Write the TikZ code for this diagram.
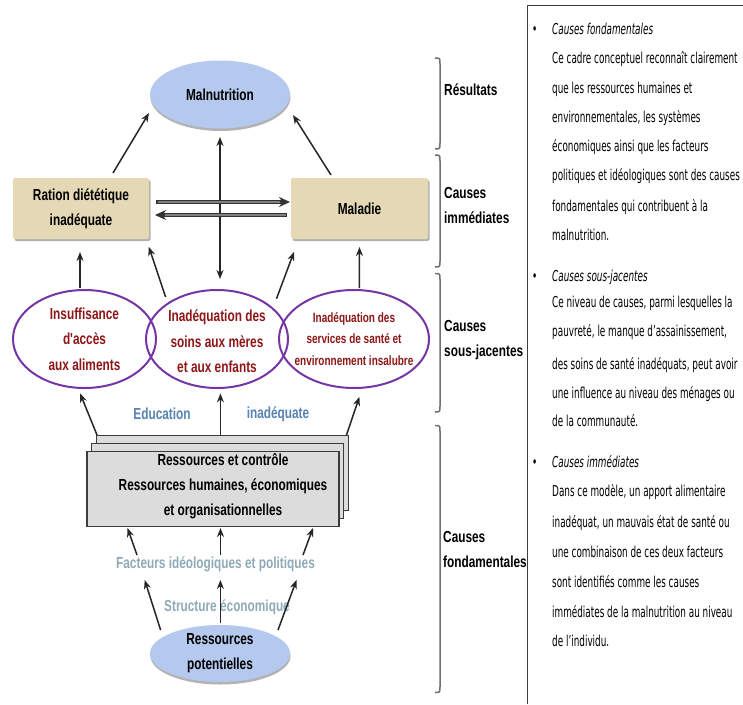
\documentclass[tikz,border=0pt]{standalone}
\usepackage{fontspec}
\setmainfont{Liberation Sans}
\newfontfamily\diagbold[FakeStretch=0.74]{Liberation Sans}
\newfontfamily\notefont[FakeStretch=0.59]{DejaVu Sans}
\usetikzlibrary{arrows.meta,shapes.geometric,shadows,calc}

\definecolor{boxbeige}{HTML}{E4D9B4}
\definecolor{ellblue}{HTML}{B5C9EE}
\definecolor{ringpurple}{HTML}{7535A5}
\definecolor{causered}{HTML}{8E1616}
\definecolor{stackgray}{HTML}{DCDCDC}
\definecolor{stackedge}{HTML}{3C3C3C}
\definecolor{edublue}{HTML}{5883B3}
\definecolor{factgray}{HTML}{8FAAB8}
\definecolor{bracegray}{HTML}{707070}

\newcommand\boldlbl{\diagbold\bfseries\fontsize{16}{25}\selectfont}
\newcommand\redlbl{\diagbold\bfseries\fontsize{16}{25.5}\selectfont}
\newcommand\smallred{\diagbold\bfseries\fontsize{13.5}{21.5}\selectfont}
\newcommand\notetxt{\notefont\fontsize{15}{17}\selectfont}

\tikzset{
  arr/.style={-{Stealth[length=9pt,width=7pt]}, line width=1.5pt, draw=black!85},
  twoway/.style={{Stealth[length=9pt,width=7pt]}-{Stealth[length=9pt,width=7pt]}, line width=1.5pt, draw=black!85},
  across/.style={-{Stealth[length=11pt,width=10pt]}, line width=3.4pt, draw=black!80},
  acrosscore/.style={line width=1.1pt, draw=black!50, shorten >=10pt, shorten <=1.5pt},
  outcome/.style={ellipse, fill=ellblue, inner sep=0pt, minimum width=140pt,
    drop shadow={shadow xshift=0.5pt, shadow yshift=-2.5pt, fill=black!50, opacity=0.6}},
  immbox/.style={rectangle, rounded corners=2pt, fill=boxbeige, minimum width=136pt,
    minimum height=61pt, inner sep=0pt, align=center, font=\boldlbl,
    drop shadow={shadow xshift=1.5pt, shadow yshift=-2pt, fill=black!50, opacity=0.6}},
  ring/.style={ellipse, draw=ringpurple, line width=2pt, minimum height=98pt, inner sep=0pt},
  ringtext/.style={text=causered, align=center, font=\redlbl, inner sep=0pt},
  stackbox/.style={rectangle, fill=stackgray, draw=stackedge, line width=1.4pt,
    minimum width=252pt, minimum height=74.5pt, inner sep=0pt,
    copy shadow={shadow xshift=9.4pt, shadow yshift=16pt, fill=stackgray, draw=stackedge, opacity=1},
    copy shadow={shadow xshift=4.7pt, shadow yshift=8pt, fill=stackgray, draw=stackedge, opacity=1}},
  stacktext/.style={align=center, font=\boldlbl, inner sep=0pt},
  plaintext/.style={font=\boldlbl, inner sep=0pt, align=center},
  levellbl/.style={font=\boldlbl, inner sep=0pt, align=left, anchor=west},
  brc/.style={draw=bracegray, line width=1.5pt},
  ptxt/.style={font=\notetxt, inner sep=0pt, anchor=base west},
  pdot/.style={font=\notetxt, inner sep=0pt, anchor=base west}
}

\begin{document}
\begin{tikzpicture}[x=1pt,y=-1pt]
\useasboundingbox (0,0) rectangle (743,704);
\fill[white] (0,0) rectangle (743,704);

% ---------- results and immediate causes ----------
\node[outcome, minimum height=68pt, font=\boldlbl] (mal) at (220,94.5) {Malnutrition};
\node[immbox] (ration) at (81,208.5) {Ration diététique\\inadéquate};
\node[immbox, minimum width=137pt] (maladie) at (359.5,208.5) {Maladie};

% ---------- underlying causes ----------
\node[ring, minimum width=143pt,
  label={[ringtext]center:{Insuffisance\\d'accès\\aux aliments}}] (acces) at (84.5,339) {};
\node[ring, minimum width=142pt,
  label={[ringtext, yshift=-2.5pt]center:{Inadéquation des\\soins aux mères\\et aux enfants}}] (soins) at (217,339) {};
\node[ring, minimum width=150pt,
  label={[ringtext, font=\smallred]center:{Inadéquation des\\services de santé et\\environnement insalubre}}] (sante) at (354,339) {};

\node[plaintext, text=edublue] (educ) at (162,414) {Education};
\node[plaintext, text=edublue] (inad) at (278,414) {inadéquate};

% ---------- basic causes ----------
\node[stackbox,
  label={[stacktext, xshift=10pt, yshift=2.5pt]center:{Ressources et contrôle\\Ressources humaines, économiques\\et organisationnelles}}] (ress) at (213,489) {};

\node[plaintext, text=factgray] (fact) at (215.5,564) {Facteurs idéologiques et politiques};
\node[plaintext, text=factgray] (struct) at (227,607) {Structure économique};

\node[outcome, minimum height=57pt,
  label={[plaintext]center:{Ressources\\potentielles}}] (pot) at (220,653.5) {};

% ---------- connectors ----------
\draw[arr] ($(ration)+(32,-35.5)$) -- ($(mal)+(-71,18.5)$);
\draw[arr] ($(maladie)+(-28.5,-33.5)$) -- ($(mal)+(73,20.5)$);
\draw[twoway] ($(mal)+(0,42.5)$) -- ($(soins)+(3,-60)$);

\draw[across] ($(ration)+(75,-6.5)$) -- ($(maladie)+(-69.5,-6.5)$);
\draw[acrosscore] ($(ration)+(75,-6.5)$) -- ($(maladie)+(-69.5,-6.5)$);
\draw[across] ($(maladie)+(-72.5,6.5)$) -- ($(ration)+(74,6.5)$);
\draw[acrosscore] ($(maladie)+(-72.5,6.5)$) -- ($(ration)+(74,6.5)$);

\draw[arr] ($(acces)+(-4.5,-51)$) -- ($(ration)+(-1,43.5)$);
\draw[arr] ($(soins)+(-51.4,-42)$) -- ($(ration)+(67.8,38.3)$);
\draw[arr] ($(soins)+(59.5,-40.3)$) -- ($(maladie)+(-65.5,43.4)$);
\draw[arr] ($(sante)+(5.4,-51)$) -- ($(maladie)+(0,38.5)$);

\draw[arr] ($(ress)+(-116,-54)$) -- ($(acces)+(-4.4,54.4)$);
\draw[arr] ($(ress)+(7.4,-54)$) -- ($(soins)+(3.4,54.4)$);
\draw[arr] ($(ress)+(133.5,-54)$) -- ($(sante)+(5.4,57.8)$);

\draw[arr] ($(fact)+(-78.5,-9)$) -- ($(ress)+(-85.5,39)$);
\draw[arr] ($(fact)+(5,-9)$) -- ($(ress)+(7.5,39)$);
\draw[arr] ($(fact)+(87.5,-9)$) -- ($(ress)+(100,39)$);

\draw[arr] ($(pot)+(-59.4,-23.5)$) -- ($(fact)+(-70.8,16)$);
\draw[arr] ($(pot)+(0.4,-30.5)$) -- ($(fact)+(4.9,16)$);
\draw[arr] ($(pot)+(58,-23.5)$) -- ($(fact)+(81,16)$);

% ---------- level braces ----------
\draw[brc] (435,58) .. controls (440,58) .. (440,64) -- (440,143) .. controls (440,149) .. (435,149);
\draw[brc] (435,155) .. controls (440,155) .. (440,161) -- (440,261) .. controls (440,267) .. (435,267);
\draw[brc] (435,273.5) .. controls (440,273.5) .. (440,279.5) -- (440,406) .. controls (440,412) .. (435,412);
\draw[brc] (435,425.5) .. controls (440,425.5) .. (440,431.5) -- (440,686.5) .. controls (440,692.5) .. (435,692.5);

\node[levellbl] (lres) at (444,90) {Résultats};
\node[levellbl] (limm) at (444,205.5) {Causes\\immédiates};
\node[levellbl] (lsous) at (444,340) {Causes\\sous-jacentes};
\node[levellbl] (lfond) at (443,549.5) {Causes\\fondamentales};

% ---------- notes column ----------
\draw[black!75, line width=1pt] (527.5,704) -- (527.5,5) -- (743,5);

\node[pdot] (b1) at (532,34.5) {•};
\node[ptxt] (p1) at (552,34.5) {\itshape Causes fondamentales};
\node[ptxt] (p2) at (552,63.5) {Ce cadre conceptuel reconnaît clairement};
\node[ptxt] (p3) at (552,93.5) {que les ressources humaines et};
\node[ptxt] (p4) at (552,122.5) {environnementales, les systèmes};
\node[ptxt] (p5) at (552,151.5) {économiques ainsi que les facteurs};
\node[ptxt] (p6) at (552,180.5) {politiques et idéologiques sont des causes};
\node[ptxt] (p7) at (552,211.5) {fondamentales qui contribuent à la};
\node[ptxt] (p8) at (552,240.5) {malnutrition.};

\node[pdot] (b2) at (532,281.5) {•};
\node[ptxt] (p9) at (552,281.5) {\itshape Causes sous-jacentes};
\node[ptxt] (p10) at (552,307.5) {Ce niveau de causes, parmi lesquelles la};
\node[ptxt] (p11) at (552,336.5) {pauvreté, le manque d’assainissement,};
\node[ptxt] (p12) at (552,369.5) {des soins de santé inadéquats, peut avoir};
\node[ptxt] (p13) at (552,398.5) {une influence au niveau des ménages ou};
\node[ptxt] (p14) at (552,426.5) {de la communauté.};

\node[pdot] (b3) at (532,467.5) {•};
\node[ptxt] (p15) at (552,467.5) {\itshape Causes immédiates};
\node[ptxt] (p16) at (552,496.5) {Dans ce modèle, un apport alimentaire};
\node[ptxt] (p17) at (552,527.5) {inadéquat, un mauvais état de santé ou};
\node[ptxt] (p18) at (552,557.5) {une combinaison de ces deux facteurs};
\node[ptxt] (p19) at (552,587.5) {sont identifiés comme les causes};
\node[ptxt] (p20) at (552,617.5) {immédiates de la malnutrition au niveau};
\node[ptxt] (p21) at (552,646.5) {de l’individu.};
\end{tikzpicture}
\end{document}
